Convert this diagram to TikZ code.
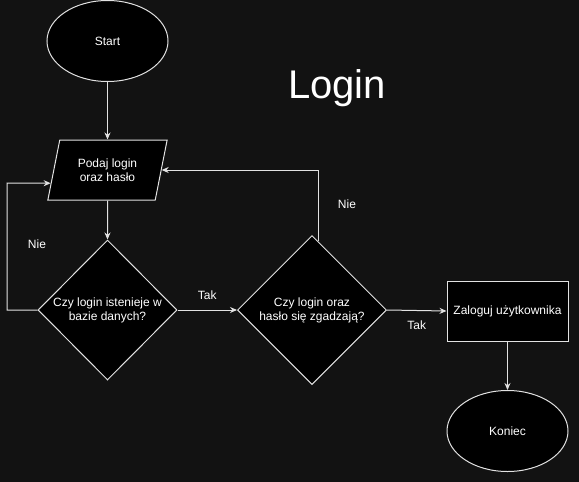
\documentclass[tikz,border=0pt]{standalone}
\usepackage{fontspec}
\setmainfont{Liberation Sans}
\usepackage{tikz}
\usetikzlibrary{arrows.meta,shapes.geometric,calc}
\usetikzlibrary{positioning}
\definecolor{bgdark}{HTML}{121212}
\definecolor{linegray}{HTML}{E2E2E2}
\tikzset{
    flowtext/.style={
           text=white,
           font=\fontsize{12}{14}\selectfont,
           align=center,
           },
    shapebox/.style={
           flowtext,
           draw=linegray, fill=black, line width=1pt,
           inner sep=0pt,
           },
    terminal/.style={
           shapebox, ellipse,
           minimum width=121pt, minimum height=81pt,
           },
    inputbox/.style={
           shapebox, trapezium,
           trapezium left angle=72, trapezium right angle=108,
           trapezium stretches=true,
           minimum width=120pt, minimum height=60pt,
           },
    decision/.style={
           shapebox, diamond, aspect=1,
           },
    process/.style={
           shapebox, rectangle,
           minimum width=121pt, minimum height=60pt,
           },
    connector/.style={
           draw=linegray, line width=1pt,
           },
    edgelabel/.style={
           flowtext, inner sep=0pt,
           },
    title/.style={
           text=white,
           font=\fontsize{40}{48}\selectfont,
           inner sep=0pt,
           },
}

\begin{document}
\begin{tikzpicture}[->,>={Stealth[length=7pt,width=6pt]},x=1pt,y=-1pt]

 \fill[-,bgdark] (0,0) rectangle (579,482);
 \useasboundingbox (0,0) rectangle (579,482);

 \node[terminal] (start) at (107.5,41) {Start};
 \node[inputbox] (podaj) at (107.5,170) {Podaj login\\oraz hasło};
 \node[decision, minimum width=139pt, minimum height=140pt] (istnieje) at (107.5,310)
 {Czy login istenieje w\\bazie danych?};
 \node[decision, minimum width=149pt, minimum height=149pt] (zgodne) at (312,310)
 {Czy login oraz\\hasło się zgadzają?};
 \node[process] (zaloguj) at (507.5,311) {Zaloguj użytkownika};
 \node[terminal] (koniec) at (507.5,431) {Koniec};
 \node[title, anchor=base] (tytul) at (337,98) {Login};

 \coordinate (nieL) at (7,183);

 \draw[connector] (start) -- (podaj);
 \draw[connector] (podaj) -- (istnieje);
 \draw[connector] (istnieje.east) -- (zgodne.west)
   node[edgelabel, midway, yshift=15pt] {Tak};
 \draw[connector] (zgodne.east) -- (zaloguj.west)
   node[edgelabel, midway, yshift=-15pt] {Tak};
 \draw[connector] (zaloguj) -- (koniec);
 \draw[connector] (istnieje.west) -| (nieL)
   node[edgelabel, pos=0.76, xshift=30pt] {Nie}
   -- ($(podaj.bottom left corner)!0.283!(podaj.top left corner)$);
 \draw[connector] ($(zgodne.north)!0.08!(zgodne.east)$) |- (podaj.east)
   node[edgelabel, pos=0.26, xshift=29pt] {Nie};

\end{tikzpicture}
\end{document}
